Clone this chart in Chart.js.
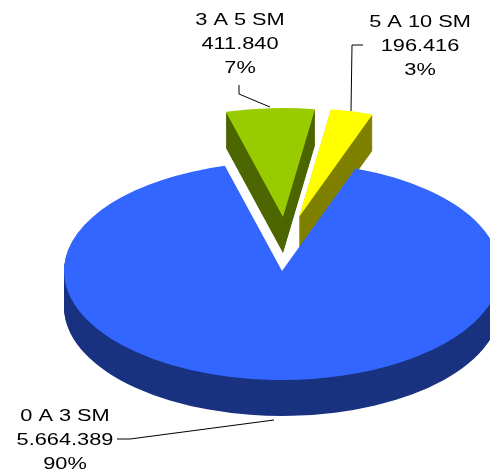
<!DOCTYPE html>
<html>
<head>
<meta charset="utf-8">
<script src="https://cdn.jsdelivr.net/npm/chart.js@4"></script>
<style>
  html, body { margin: 0; padding: 0; background: #fff; }
  canvas { display: block; }
</style>
</head>
<body>
<canvas id="pieChart" width="490" height="469"></canvas>
<script>
// data
const categories = ['0 A 3 SM', '3 A 5 SM', '5 A 10 SM'];
const values = [5664389, 411840, 196416];
const valueLabels = ['5.664.389', '411.840', '196.416'];

const topColors = ['#3366FF', '#99CC00', '#FFFF00'];
const wallColors = ['#1A3380', '#4D6600', '#808000'];

// how far each slice is pulled out on screen, the built in offset also grows the slice
const explode = [[0, 0], [1, -54], [17, -54]];
const squash = 0.5;
const depth = 36;
const stretchText = 1.36;
const total = values.reduce((a, b) => a + b, 0);

// label block: centre x and first baseline, then leader line points
const labelSpots = [
  { x: 65, y: 421, line: [[117, 439], [130, 439], [274, 420]] },
  { x: 240, y: 25, line: [[239, 85], [239, 94], [270, 107]] },
  { x: 420, y: 27, line: [[363, 45], [352, 45], [351, 111]] }
];

function flatten(ctx, arc, dx, dy) {
  ctx.translate(arc.x + dx, arc.y + dy);
  ctx.scale(1, squash);
  ctx.translate(-arc.x, -arc.y);
}

const pie3d = {
  id: 'pie3d',
  beforeDatasetsDraw(chart) {
    const ctx = chart.ctx;
    const arcs = chart.getDatasetMeta(0).data;
    // all side walls first, then the tops over them
    arcs.forEach((arc, i) => {
      ctx.fillStyle = wallColors[i];
      for (let d = depth; d > 0; d--) {
        ctx.save();
        flatten(ctx, arc, explode[i][0], explode[i][1] + d);
        ctx.beginPath();
        ctx.moveTo(arc.x, arc.y);
        ctx.arc(arc.x, arc.y, arc.outerRadius, arc.startAngle, arc.endAngle);
        ctx.closePath();
        ctx.fill();
        ctx.restore();
      }
    });
    arcs.forEach((arc, i) => {
      ctx.save();
      flatten(ctx, arc, explode[i][0], explode[i][1]);
      arc.draw(ctx);
      ctx.restore();
    });
    return false;
  },
  afterDraw(chart) {
    const ctx = chart.ctx;
    ctx.strokeStyle = '#000';
    ctx.lineWidth = 1;
    ctx.fillStyle = '#000';
    ctx.font = '16px "Liberation Sans"';
    ctx.textAlign = 'center';
    labelSpots.forEach((spot, i) => {
      ctx.beginPath();
      spot.line.forEach((p, k) => k ? ctx.lineTo(p[0], p[1]) : ctx.moveTo(p[0], p[1]));
      ctx.stroke();

      const pct = Math.round(values[i] / total * 100) + '%';
      [categories[i], valueLabels[i], pct].forEach((txt, k) => {
        ctx.save();
        ctx.translate(spot.x, spot.y + k * 24);
        ctx.scale(stretchText, 1);
        ctx.fillText(txt, 0, 0);
        ctx.restore();
      });
    });
  }
};

new Chart(document.getElementById('pieChart'), {
  type: 'pie',
  data: {
    labels: categories,
    datasets: [{
      data: values,
      backgroundColor: topColors,
      borderWidth: 0
    }]
  },
  options: {
    responsive: false,
    animation: false,
    rotation: 19.7,
    radius: 218,
    layout: { padding: { left: 74, top: 73 } },
    plugins: { legend: { display: false }, tooltip: { enabled: false } }
  },
  plugins: [pie3d]
});
</script>
</body>
</html>
